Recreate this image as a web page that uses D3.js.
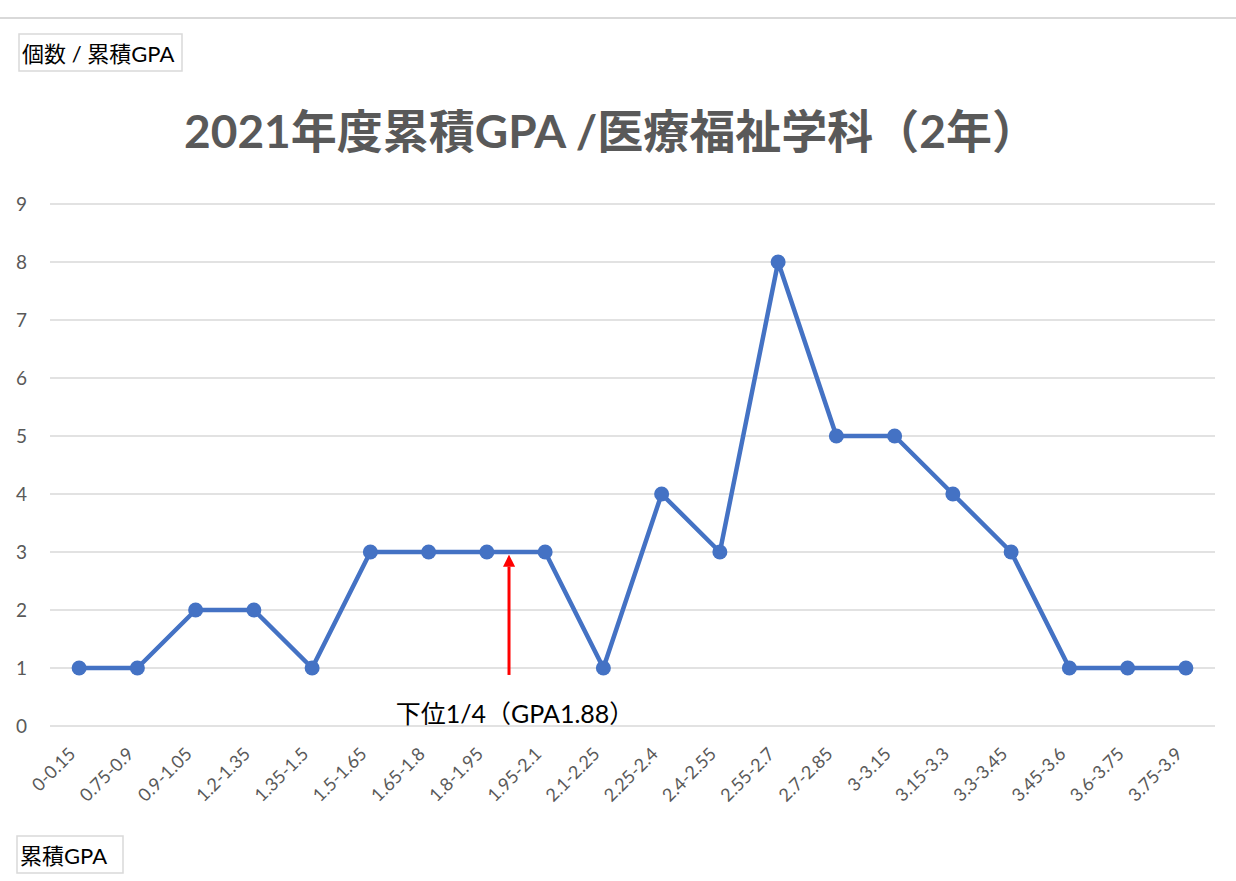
<!DOCTYPE html>
<html>
<head>
<meta charset="utf-8">
<script src="https://cdn.jsdelivr.net/npm/d3@7"></script>
<style>
  body { margin: 0; background: #fff; }
  text { font-family: "Lato", "Noto Sans CJK JP", sans-serif; }
</style>
</head>
<body>
<div id="chart-area"></div>
<script>
// data
const categories = ["0-0.15", "0.75-0.9", "0.9-1.05", "1.2-1.35", "1.35-1.5", "1.5-1.65", "1.65-1.8",
	"1.8-1.95", "1.95-2.1", "2.1-2.25", "2.25-2.4", "2.4-2.55", "2.55-2.7", "2.7-2.85", "3-3.15",
	"3.15-3.3", "3.3-3.45", "3.45-3.6", "3.6-3.75", "3.75-3.9"]
const counts = [1, 1, 2, 2, 1, 3, 3, 3, 3, 1, 4, 3, 8, 5, 5, 4, 3, 1, 1, 1]
const yTicks = [0, 1, 2, 3, 4, 5, 6, 7, 8, 9]
const title = "2021年度累積GPA /医療福祉学科（2年）"
const yLabel = "個数 / 累積GPA"
const xLabel = "累積GPA"
// lower quartile marker: position in category index units, value span
const quartileIdx = 7.38
const quartileFrom = 0.88
const quartileTo = 2.92
const quartileText = "下位1/4（GPA1.88）"

const W = 1236, H = 881
const MARGIN = {LEFT: 50, RIGHT: 21, TOP: 204, BOTTOM: 155}
const WIDTH = W - MARGIN.LEFT - MARGIN.RIGHT
const HEIGHT = H - MARGIN.TOP - MARGIN.BOTTOM

const svg = d3.select("#chart-area").append("svg")
	.attr("width", W)
	.attr("height", H)

// top separator line
svg.append("line")
	.attr("x1", 0).attr("x2", W)
	.attr("y1", 18).attr("y2", 18)
	.attr("stroke", "#d9d9d9").attr("stroke-width", 2)

const g = svg.append("g")
	.attr("transform", `translate(${MARGIN.LEFT}, ${MARGIN.TOP})`)

const x = d3.scalePoint()
	.domain(categories)
	.range([0, WIDTH])
	.padding(0.5)

const y = d3.scaleLinear()
	.domain([0, 9])
	.range([HEIGHT, 0])

// gridlines
g.selectAll(".grid")
	.data(yTicks)
	.enter().append("line")
	.attr("class", "grid")
	.attr("x1", 0).attr("x2", WIDTH)
	.attr("y1", d => y(d)).attr("y2", d => y(d))
	.attr("stroke", "#d9d9d9").attr("stroke-width", 1.5)

// y axis
const yAxisCall = d3.axisLeft(y).tickValues(yTicks).tickSize(0).tickPadding(23)
g.append("g")
	.attr("class", "y axis")
	.call(yAxisCall)
	.call(a => a.select(".domain").remove())
	.selectAll("text")
	.attr("font-size", "19px")
	.attr("fill", "#595959")

// x axis
const xAxisCall = d3.axisBottom(x).tickSize(0)
g.append("g")
	.attr("class", "x axis")
	.attr("transform", `translate(0, ${HEIGHT})`)
	.call(xAxisCall)
	.call(a => a.select(".domain").remove())
	.selectAll("text")
	.attr("font-size", "18px")
	.attr("fill", "#595959")
	.attr("text-anchor", "end")
	.attr("dy", "0")
	.attr("transform", "translate(-5, 27) rotate(-45)")

// line
const line = d3.line()
	.x((d, i) => x(categories[i]))
	.y(d => y(d))

g.append("path")
	.datum(counts)
	.attr("fill", "none")
	.attr("stroke", "#4472C4")
	.attr("stroke-width", 4.5)
	.attr("stroke-linejoin", "round")
	.attr("d", line)

g.selectAll(".dot")
	.data(counts)
	.enter().append("circle")
	.attr("class", "dot")
	.attr("cx", (d, i) => x(categories[i]))
	.attr("cy", d => y(d))
	.attr("r", 7.5)
	.attr("fill", "#4472C4")

// quartile arrow
const step = x.step()
const qx = x(categories[0]) + quartileIdx * step
svg.append("defs").append("marker")
	.attr("id", "arrow")
	.attr("viewBox", "0 0 10 10")
	.attr("refX", 0).attr("refY", 5)
	.attr("markerWidth", 4).attr("markerHeight", 4)
	.attr("markerUnits", "strokeWidth")
	.attr("orient", "auto")
	.append("path")
	.attr("d", "M0,0 L10,5 L0,10 z")
	.attr("fill", "#ff0000")

g.append("line")
	.attr("x1", qx).attr("x2", qx)
	.attr("y1", y(quartileFrom)).attr("y2", y(quartileTo) + 10)
	.attr("stroke", "#ff0000")
	.attr("stroke-width", 3)
	.attr("marker-end", "url(#arrow)")

g.append("text")
	.attr("x", qx + 6)
	.attr("y", HEIGHT - 3)
	.attr("text-anchor", "middle")
	.attr("font-size", "25px")
	.attr("fill", "#000")
	.text(quartileText)

// title
svg.append("text")
	.attr("x", 611)
	.attr("y", 148)
	.attr("text-anchor", "middle")
	.attr("font-size", "46px")
	.attr("font-weight", "bold")
	.attr("fill", "#595959")
	.text(title)

// label boxes
function labelBox(text, bx, by, bw, bh) {
	svg.append("rect")
		.attr("x", bx).attr("y", by)
		.attr("width", bw).attr("height", bh)
		.attr("fill", "#fff")
		.attr("stroke", "#d9d9d9").attr("stroke-width", 1.5)
	svg.append("text")
		.attr("x", bx + 3)
		.attr("y", by + bh - 9)
		.attr("font-size", "22px")
		.attr("fill", "#000")
		.text(text)
}
labelBox(yLabel, 19, 34, 163, 37)
labelBox(xLabel, 17, 836, 106, 37)
</script>
</body>
</html>
